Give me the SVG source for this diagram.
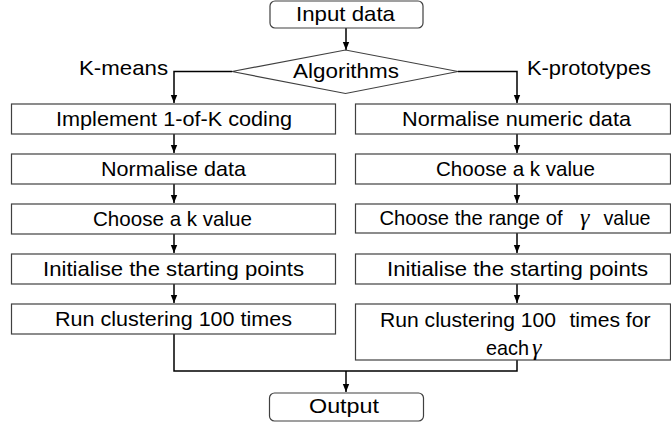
<svg xmlns="http://www.w3.org/2000/svg" width="671" height="426" viewBox="0 0 671 426">
<defs>
<marker id="ah" markerUnits="userSpaceOnUse" markerWidth="8" markerHeight="8" viewBox="0 0 8 8" refX="8" refY="4" orient="auto">
<path d="M0,0.8 L8,4 L0,7.2 Z" fill="#000"/>
</marker>
</defs>
<style>
.box{fill:#fff;stroke:#404040;stroke-width:1.2}
.t{font-family:"Liberation Sans",Arial,sans-serif;font-size:21px;fill:#000}
.g{font-family:"Liberation Serif","Times New Roman",serif;font-style:italic;font-size:24px;fill:#000}
.c{fill:none;stroke:#000;stroke-width:1.5}
.ca{fill:none;stroke:#000;stroke-width:1.5;marker-end:url(#ah)}
</style>
<rect width="671" height="426" fill="#fff"/>
<g id="connectors">
<path class="ca" d="M346,28 V50"/>
<path class="ca" d="M232,71.5 H174 V103"/>
<path class="ca" d="M458,71.5 H517 V103"/>
<path class="ca" d="M174,134 V153"/>
<path class="ca" d="M174,184 V203"/>
<path class="ca" d="M174,234 V253"/>
<path class="ca" d="M174,284 V303"/>
<path class="ca" d="M517,134 V153"/>
<path class="ca" d="M517,184 V203"/>
<path class="ca" d="M517,233 V253"/>
<path class="ca" d="M517,284 V303"/>
<path class="c" d="M174,334 V371 H517 V360"/>
<path class="ca" d="M346,371 V392"/>
</g>
<g id="input">
<rect class="box" x="270" y="1" width="153" height="27" rx="5"/>
<text class="t" x="296" y="21" textLength="99" lengthAdjust="spacingAndGlyphs">Input data</text>
</g>
<g id="algorithms">
<polygon class="box" points="232,71.5 345.5,50 458,71.5 345.5,93.5"/>
<text class="t" x="293" y="78" textLength="106" lengthAdjust="spacingAndGlyphs">Algorithms</text>
</g>
<g id="label-kmeans">
<text class="t" x="79" y="75" textLength="89" lengthAdjust="spacingAndGlyphs">K-means</text>
</g>
<g id="label-kproto">
<text class="t" x="527" y="75" textLength="124" lengthAdjust="spacingAndGlyphs">K-prototypes</text>
</g>
<g id="l1">
<rect class="box" x="11.5" y="104" width="324" height="30"/>
<text class="t" x="56" y="126" textLength="236" lengthAdjust="spacingAndGlyphs">Implement 1-of-K coding</text>
</g>
<g id="l2">
<rect class="box" x="11.5" y="154" width="324" height="30"/>
<text class="t" x="101" y="176" textLength="145" lengthAdjust="spacingAndGlyphs">Normalise data</text>
</g>
<g id="l3">
<rect class="box" x="11.5" y="204" width="324" height="30"/>
<text class="t" x="93" y="226" textLength="159" lengthAdjust="spacingAndGlyphs">Choose a k value</text>
</g>
<g id="l4">
<rect class="box" x="11.5" y="254" width="324" height="30"/>
<text class="t" x="43" y="276" textLength="261" lengthAdjust="spacingAndGlyphs">Initialise the starting points</text>
</g>
<g id="l5">
<rect class="box" x="11.5" y="304" width="324" height="30"/>
<text class="t" x="55" y="326" textLength="237" lengthAdjust="spacingAndGlyphs">Run clustering 100 times</text>
</g>
<g id="r1">
<rect class="box" x="355.5" y="104" width="315" height="30"/>
<text class="t" x="402" y="126" textLength="229" lengthAdjust="spacingAndGlyphs">Normalise numeric data</text>
</g>
<g id="r2">
<rect class="box" x="355.5" y="154" width="315" height="30"/>
<text class="t" x="436" y="176" textLength="159" lengthAdjust="spacingAndGlyphs">Choose a k value</text>
</g>
<g id="r3">
<rect class="box" x="355.5" y="204" width="315" height="29"/>
<text class="t" x="379.5" y="225" textLength="183" lengthAdjust="spacingAndGlyphs">Choose the range of</text>
<text class="g" x="580" y="225">γ</text>
<text class="t" x="603.5" y="225" textLength="47" lengthAdjust="spacingAndGlyphs">value</text>
</g>
<g id="r4">
<rect class="box" x="355.5" y="254" width="315" height="30"/>
<text class="t" x="387" y="276" textLength="261" lengthAdjust="spacingAndGlyphs">Initialise the starting points</text>
</g>
<g id="r5">
<rect class="box" x="355.5" y="304" width="315" height="56"/>
<text class="t" x="380" y="327" textLength="176" lengthAdjust="spacingAndGlyphs">Run clustering 100</text>
<text class="t" x="569.5" y="327" textLength="81" lengthAdjust="spacingAndGlyphs">times for</text>
<text class="t" x="486" y="355" textLength="43" lengthAdjust="spacingAndGlyphs">each</text>
<text class="g" x="532" y="355">γ</text>
</g>
<g id="output">
<rect class="box" x="269.5" y="393" width="154" height="28" rx="5"/>
<text class="t" x="309" y="413" textLength="70" lengthAdjust="spacingAndGlyphs">Output</text>
</g>
</svg>
